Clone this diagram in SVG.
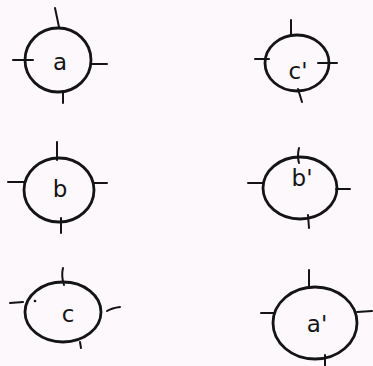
<svg xmlns="http://www.w3.org/2000/svg" width="373" height="366" viewBox="0 0 373 366">
<style>
.ring{fill:none;stroke:#141414;stroke-width:2.8;stroke-linecap:round}
.tick{fill:none;stroke:#141414;stroke-width:2;stroke-linecap:round}
.lbl{font-family:"DejaVu Sans",sans-serif;font-size:23px;fill:#141414;text-anchor:middle}
</style>
<rect width="373" height="366" fill="#fcf8fb"/>
<g id="node-a">
<ellipse class="ring" cx="58" cy="60" rx="33" ry="32"/>
<path class="tick" d="M55 8 L59 27 M13 60 L33 60 M91 64 L107 64 M63 91 L63 103"/>
<text class="lbl" x="60" y="70">a</text>
</g>
<g id="node-c-prime">
<ellipse class="ring" cx="297" cy="63" rx="32" ry="28"/>
<path class="tick" d="M291 20 L291 36 M255 59 L269 59 M318 63 L337 63 M298 89 L302 102"/>
<text class="lbl" x="298" y="79">c'</text>
</g>
<g id="node-b">
<ellipse class="ring" cx="59" cy="190" rx="35" ry="32"/>
<path class="tick" d="M57 142 L57 160 M8 182 L25 182 M93 183 L107 183 M61 218 L61 233"/>
<text class="lbl" x="60" y="197">b</text>
</g>
<g id="node-b-prime">
<ellipse class="ring" cx="300" cy="188" rx="37" ry="31"/>
<path class="tick" d="M299 148 Q297 156 299 163 M248 183 L263 183 M336 189 L350 189 M308 215 L309 228"/>
<text class="lbl" x="302" y="186">b'</text>
</g>
<g id="node-c">
<ellipse class="ring" cx="63" cy="312" rx="38" ry="30"/>
<path class="tick" d="M63 268 Q61 276 64 285 M10 303 L23 302 M107 311 Q112 308 120 307 M80 342 L81 348"/>
<circle cx="35" cy="301" r="1.3" fill="#141414"/>
<text class="lbl" x="68" y="322">c</text>
</g>
<g id="node-a-prime">
<ellipse class="ring" cx="315" cy="323" rx="42" ry="36"/>
<path class="tick" d="M309 270 L309 287 M261 313 L275 313 M357 312 L372 311 M325 355 L325 366"/>
<text class="lbl" x="317" y="332">a'</text>
</g>
</svg>
